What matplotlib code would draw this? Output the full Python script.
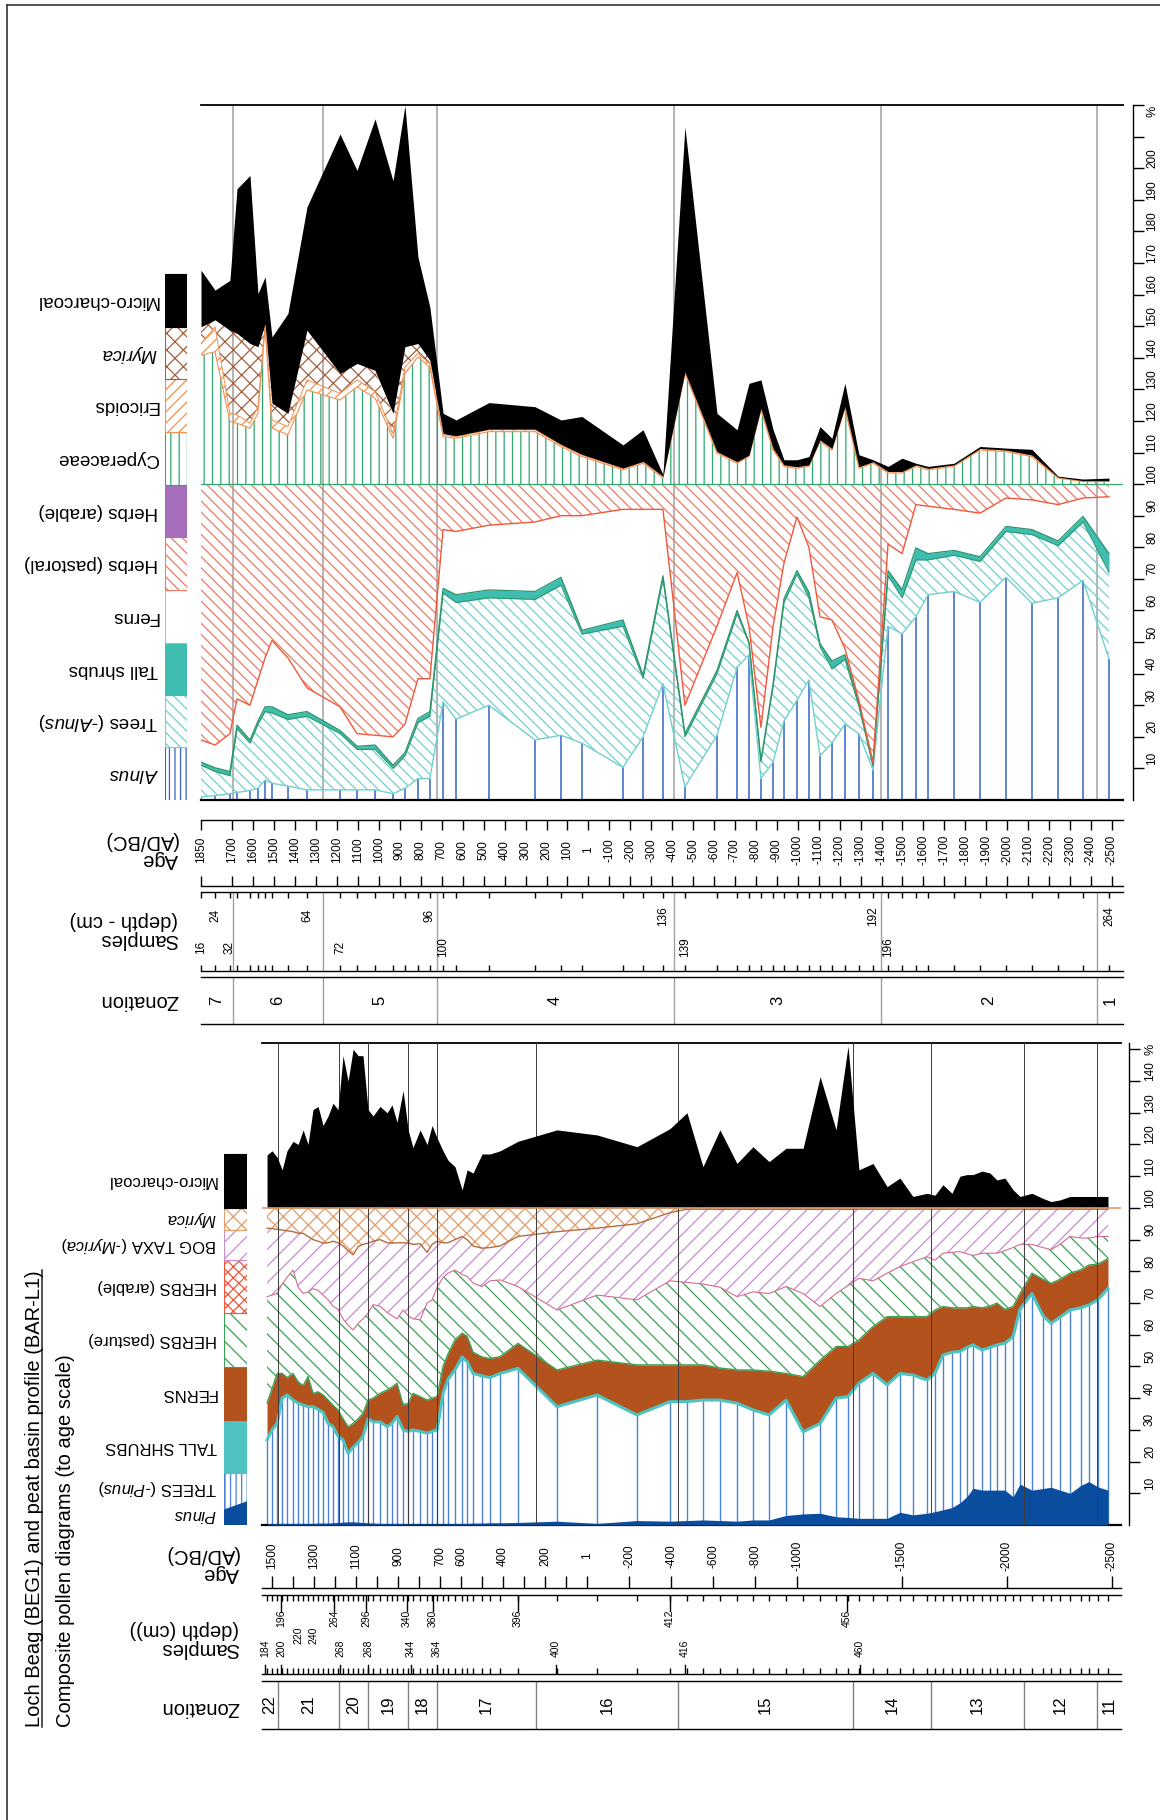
import numpy as np
import matplotlib
matplotlib.use("Agg")
import matplotlib.pyplot as plt
from matplotlib.patches import Rectangle, Polygon
from matplotlib.lines import Line2D
from matplotlib import transforms

plt.rcParams["font.family"] = ["Liberation Sans", "DejaVu Sans"]
plt.rcParams["mathtext.fontset"] = "custom"
plt.rcParams["mathtext.rm"] = "Liberation Sans"
plt.rcParams["mathtext.it"] = "Liberation Sans:italic"
plt.rcParams["hatch.linewidth"] = 0.9
plt.rcParams["axes.linewidth"] = 1.0

# ---------------------------------------------------------------
# Peat basin profile BAR-L1 (upper diagram)
# ages AD (+) / BC (-); every series = upper edge of its band (cumulative %)
# bands up to 100 are the pollen sum, above 100 the extra counts
# ---------------------------------------------------------------
bar_age = [1850, 1783, 1712, 1678, 1616, 1578, 1544, 1511, 1435, 1344,
           1186, 1105, 1019, 933, 876, 814, 757, 694, 632, 475,
           255, 131, 31, -165, -261, -356, -461, -614, -710, -767,
           -824, -882, -934, -996, -1053, -1106, -1163, -1225, -1292, -1359,
           -1431, -1498, -1564, -1622, -1746, -1870, -1994, -2118, -2243, -2362, -2486]
bar_alnus = [1, 1.4, 2, 2.4, 3, 3.7, 6.3, 5.3, 4.4, 3.2,
             3.2, 3.2, 3.2, 2, 3.7, 6.8, 6.8, 31, 25.6, 30,
             19, 20.5, 18, 10.3, 20, 36.8, 4.2, 20.5, 42, 46,
             6.8, 12, 25, 31.5, 38, 14, 18, 24, 21, 9.5,
             55, 52.6, 58, 65, 66, 62.6, 70.5, 62.3, 64, 69.5, 44.7]
bar_trees = [11, 9, 7.7, 22.5, 18, 24, 28, 27.5, 25.5, 26.5,
             21, 16, 16, 10, 14, 24.5, 26.5, 65.5, 62.5, 64,
             63.5, 68, 52.5, 55, 38.5, 70, 20, 40, 59, 49.5,
             12, 36, 62.5, 71.5, 64, 48.5, 41.5, 44.5, 29.5, 10.6,
             71, 64, 76, 76, 77.5, 75.5, 85, 84, 80.5, 88, 72]
bar_shrubs = [12, 10.2, 9, 23.7, 19, 25, 29.5, 29.5, 27, 28,
              22, 17, 17.4, 11, 15, 25.8, 28, 67, 65, 66.5,
              66, 70.5, 53.7, 57, 39.5, 71, 21, 41, 60, 50,
              12.6, 36.8, 63.7, 72.6, 65.8, 49.5, 44, 46, 30.5, 11.6,
              72.6, 66.6, 79.8, 78, 79, 77, 86.6, 85.6, 82, 89.8, 78]
bar_ferns = [19, 17.4, 21, 32, 30, 38, 45, 50.5, 45, 35.5,
             29.5, 21, 20.5, 20, 24, 38.4, 38.4, 85.6, 85, 87,
             88, 90, 90, 92, 92, 92, 30, 55, 72, 55,
             23, 55, 75, 89.6, 80, 58, 57, 48, 31.5, 11.8,
             81, 78, 93.5, 93, 92, 90.8, 95.6, 95, 93.5, 95.6, 96]
bar_cyperaceae = [140.8, 141.9, 119.8, 119.3, 117.7, 122.4, 149.8, 117.7, 115.6, 129.8,
                  126.6, 130.8, 127.2, 114.5, 135, 140.3, 137, 115, 114.5, 116.6,
                  116.6, 111.9, 108.7, 104.5, 106.6, 102, 135, 109.8, 106.6, 108.7,
                  123.5, 110.8, 105.6, 105, 105.6, 113.5, 110.8, 124, 105, 106.6,
                  103.5, 103.5, 105.6, 104.5, 105.6, 110.8, 110.3, 108.7, 101.9, 100.8, 100.8]
bar_ericoids = [144.5, 149.8, 122.4, 121.9, 119.3, 124.5, 150.3, 120.3, 118.2, 133,
                128.7, 133, 129.3, 116, 137, 141.4, 138, 115.6, 115, 117.2,
                117.2, 112.4, 109.2, 104.9, 107, 102.4, 135.4, 110.2, 107, 109.1,
                123.9, 111.2, 106, 105.4, 106, 113.9, 111.2, 124.4, 105.4, 107,
                103.9, 103.9, 106, 104.9, 106, 111.2, 110.7, 109.1, 102.1, 101, 101]
bar_myrica = [149.8, 152, 148.7, 147.7, 144.5, 143.5, 150.8, 125.6, 122.4, 148.7,
              135, 138.2, 136, 122.4, 143.5, 144.5, 139.2, 116, 115.3, 117.4,
              117.4, 112.6, 109.4, 105.1, 107.2, 102.5, 135.5, 110.3, 107.1, 109.2,
              124, 111.3, 106.1, 105.5, 106.1, 114, 111.3, 124.5, 105.5, 107.1,
              104, 104, 106.1, 105, 106.1, 111.3, 110.8, 109.2, 102.2, 101.1, 101.1]
bar_charcoal = [167.7, 161.4, 164.5, 193.5, 197.7, 160.3, 165.6, 146.6, 154, 187.7,
                210.8, 199.3, 215.6, 196, 219.8, 171.9, 156, 122.4, 120.3, 125.8,
                124.5, 120.3, 121.4, 112.4, 117.2, 103, 213, 122.4, 117.2, 131.9,
                133, 117.2, 107.7, 107.7, 108.7, 118.2, 114.5, 131.9, 109.3, 107.7,
                105.6, 108.2, 106.6, 105.6, 106.6, 111.9, 111.4, 111, 102.5, 101.6, 101.9]

bar_zone_bounds = [1697, 1267, 723, -409, -1397, -2429]
bar_zone_names = ["7", "6", "5", "4", "3", "2", "1"]
bar_age_ticks = [1850, 1700, 1600, 1500, 1400, 1300, 1200, 1100, 1000, 900, 800,
                 700, 600, 500, 400, 300, 200, 100, 1, -100, -200, -300, -400,
                 -500, -600, -700, -800, -900, -1000, -1100, -1200, -1300, -1400,
                 -1500, -1600, -1700, -1800, -1900, -2000, -2100, -2200, -2300,
                 -2400, -2500]
bar_depth_labels = [16, 24, 32, 64, 72, 96, 100, 136, 139, 192, 196, 264]
bar_depth_sample = [0, 1, 2, 9, 10, 16, 17, 25, 26, 39, 40, 50]

# ---------------------------------------------------------------
# Loch Beag BEG1 (lower diagram), same conventions
# ---------------------------------------------------------------
beg_age = [1524, 1500, 1476, 1452, 1429, 1400, 1376, 1352, 1329, 1305,
           1281, 1257, 1233, 1210, 1186, 1162, 1138, 1114, 1090, 1067,
           1043, 1019, 986, 952, 929, 905, 876, 852, 829, 795,
           762, 738, 714, 686, 662, 629, 595, 571, 543, 500,
           462, 414, 329, 143, -48, -238, -395, -476, -552, -633,
           -714, -790, -867, -948, -1029, -1110, -1186, -1243, -1295, -1362,
           -1429, -1490, -1552, -1619, -1657, -1695, -1738, -1776, -1810, -1838,
           -1881, -1919, -1952, -1990, -2029, -2062, -2119, -2171, -2210, -2252,
           -2300, -2352, -2390, -2433, -2481]
beg_pinus = [0.4, 0.4, 0.5, 0.5, 0.5, 0.5, 0.5, 0.5, 0.5, 0.5,
             0.6, 0.6, 0.6, 0.7, 0.8, 0.9, 1.0, 1.0, 0.9, 0.8,
             0.7, 0.6, 0.5, 0.5, 0.5, 0.5, 0.5, 0.4, 0.4, 0.4,
             0.4, 0.4, 0.4, 0.4, 0.4, 0.5, 0.5, 0.5, 0.6, 0.6,
             0.7, 0.7, 0.8, 1.2, 0.5, 1.4, 1.2, 1.4, 1.6, 1.4,
             1.2, 1.6, 1.6, 3.0, 3.5, 3.7, 2.6, 2.4, 2.1, 2.1,
             2.1, 4.0, 3.2, 3.7, 4.2, 4.8, 5.5, 7.0, 9.0, 11.6,
             11.0, 11.0, 11.0, 11.0, 8.9, 12.9, 11.0, 11.5, 11.9, 11.0,
             10.0, 12.5, 13.7, 12.0, 11.0]
beg_trees = [26.8, 30, 32, 40, 41, 39.4, 38.4, 37.8, 37.3, 37.3,
             36.5, 35.5, 32, 31, 28, 26.8, 22.6, 24.5, 26, 28,
             33.5, 32.5, 32.5, 31, 32, 34.2, 30, 29.5, 30, 29.5,
             29, 29.5, 30, 41.5, 46, 48.9, 53, 51.5, 47.8, 47,
             46.5, 47.8, 49.4, 37.3, 41, 34.7, 38.9, 38.9, 39.4, 39.4,
             38.4, 36.3, 34.7, 39.4, 29.4, 32, 40, 40.5, 44.7, 47.8,
             44.2, 47.8, 47.3, 45.7, 47.8, 53.6, 54.5, 54.7, 56, 56.8,
             55.2, 56, 56.8, 57.3, 59.4, 68, 73, 66, 63.6, 65.5,
             67.8, 68.5, 69.4, 71, 74.6]
beg_ferns = [38.4, 43, 47.8, 47.8, 46.5, 47.8, 45, 44, 46.8, 41.5,
             42, 41, 39.4, 37.8, 36.3, 33.5, 31, 32, 33.5, 35.2,
             39.4, 40, 41.5, 42.6, 43.5, 44.7, 37.8, 38.4, 41.5, 40.5,
             39.4, 40, 40.5, 50, 54, 58.4, 60.5, 59.5, 54.5, 53,
             52.5, 53.1, 57.3, 48.9, 52, 50.5, 50.5, 50.5, 50.5, 49.5,
             48.9, 48.9, 48.5, 47.8, 46.8, 52, 56.3, 56.3, 58.4, 62.6,
             65.7, 65.7, 65.7, 65.7, 67.8, 68.9, 68.5, 68.5, 68.5, 68.9,
             68.5, 69, 70, 68, 68.9, 73, 79.4, 77.5, 76.2, 77.5,
             79.4, 80.5, 82, 82.3, 84]
beg_pasture = [72, 72.5, 73, 76, 78, 80.4, 75, 73, 73.5, 74.5,
               74, 72.5, 71, 69, 68, 65, 63, 61.5, 63.6, 65,
               66.8, 69.5, 69, 67, 66, 65, 67.8, 66, 65, 64.7,
               70, 71, 75, 78, 79.4, 80.4, 79, 78.4, 76.3, 75.2,
               77, 77.3, 75.2, 67.8, 72.5, 71, 77, 76.5, 76, 75,
               72, 73.5, 73, 75.2, 73, 68.9, 73, 75.5, 77.8, 77,
               79.4, 81.5, 83, 84.6, 83.5, 85.7, 86, 86.2, 85.5, 85,
               85.7, 85.7, 85.7, 86.5, 87.5, 88.5, 88.5, 87.5, 86.8, 88.5,
               91, 90.5, 90.5, 91, 91]
beg_bog = [93.6, 93.5, 93.2, 93, 92.8, 92.5, 92, 92, 91, 90,
           89.5, 88.9, 89, 89.5, 89, 88, 86.5, 85.2, 87.8, 88.5,
           88.9, 89.5, 90, 89, 88.9, 89, 89, 88.9, 88.5, 88.7,
           86, 88.5, 89.5, 89, 89, 90, 91, 90, 88, 87.3,
           87.5, 88, 91, 92.5, 93.6, 95, 98.5, 99.6, 99.6, 99.5,
           99.6, 99.5, 99.6, 99.5, 99.6, 99.5, 99.6, 99.5, 99.6, 99.6,
           99.6, 99.6, 99.6, 99.6, 99.6, 99.6, 99.6, 99.6, 99.6, 99.6,
           99.6, 99.6, 99.6, 99.5, 99.6, 99.6, 99.5, 99.6, 99.6, 99.6,
           99.6, 99.6, 99.6, 99.6, 99.6]
beg_charcoal = [116.7, 118, 116, 112, 118, 121, 120, 124.6, 120, 131,
                132, 126, 129, 133, 131, 148, 140, 150, 148, 148,
                131, 129, 132, 130, 132.5, 127, 137, 124.6, 119, 124.6,
                120, 126, 122, 118, 115, 113, 105.7, 112, 111, 117,
                117, 118, 121, 124.6, 123, 119.3, 125, 130, 113, 124.6,
                114, 119.3, 114.6, 118.8, 118.8, 141.4, 124.6, 151, 112, 114,
                106.7, 109.4, 103.6, 104.6, 104, 107.3, 104.6, 110, 110.5, 110.5,
                111.6, 111, 108.8, 109.4, 105.7, 103.6, 104.6, 103, 102, 102.5,
                103.6, 103.6, 103.6, 103.6, 103.6]

beg_zone_bounds = [1471, 1181, 1043, 852, 714, 243, -433, -1267, -1638, -2081, -2429]
beg_zone_names = ["22", "21", "20", "19", "18", "17", "16", "15", "14", "13", "12", "11"]
beg_age_labels = [1500, 1300, 1100, 900, 700, 600, 400, 200, 1, -200, -400, -600,
                  -800, -1000, -1500, -2000, -2500]
beg_age_minor = [1400, 1200, 1000, 800, 500, 300, 100]
beg_depth_labels = [184, 200, 196, 220, 240, 264, 268, 296, 268, 340, 344, 360, 364,
                    396, 400, 412, 416, 456, 460]
beg_depth_ages = [1533, 1457, 1457, 1376, 1305, 1205, 1176, 1052, 1043, 857, 838, 733,
                  714, 329, 148, -395, -467, -1238, -1300]
beg_depth_row = [0, 0, 2, 1, 1, 2, 0, 2, 0, 2, 0, 2, 0, 2, 0, 2, 0, 2, 0]

# colours
ALNUS = "#3565c9"
TREES_A = "#72d0d0"
SHRUB = "#3fbdb0"
SHRUB_EDGE = "#2c9468"
FERN_EDGE = "#86d0b4"
HERB = "#f07a66"
HERB_LINE = "#f0583c"
ARABLE = "#a56dba"
CYPER = "#2ea86f"
ERIC = "#f39152"
MYRICA = "#a3603f"
PINUS = "#0a4d9f"
TREES_P = "#4c80d6"
SHRUB_P = "#4ec4c2"
FERN_P = "#b3521d"
PASTURE = "#3aa257"
ARABLE_P = "#f2553a"
BOG = "#c98bd2"
BOG_LINE = "#d36c8f"
MYRICA_P = "#e39b68"
MYRICA_LINE = "#b46c3c"

W, H = 1160, 1820
fig = plt.figure(figsize=(W / 100, H / 100), dpi=100)


def px_axes(x0, y0, x1, y1):
    # axes placed by a pixel box, origin at top-left of the page
    ax = fig.add_axes([x0 / W, 1 - y1 / H, (x1 - x0) / W, (y1 - y0) / H])
    ax.patch.set_visible(False)
    return ax


def band(x0, y0, x1, y1, xlim, top=True, bottom=True, tick_len=5):
    ax = px_axes(x0, y0, x1, y1)
    ax.set_xlim(*xlim)
    ax.set_ylim(0, 1)
    ax.spines[["left", "right"]].set_visible(False)
    ax.spines["top"].set_visible(top)
    ax.spines["bottom"].set_visible(bottom)
    ax.set_yticks([])
    ax.tick_params(axis="x", direction="in", top=top, bottom=bottom,
                   labelbottom=False, length=tick_len, width=1)
    return ax


def percent_axis(ax, ymax, label_max, pad):
    ax.set_ylim(0, ymax)
    ax.spines["left"].set_visible(False)
    ax.spines["right"].set_position(("outward", pad))
    ax.spines["right"].set_bounds(0, ymax)
    ax.spines["top"].set_linewidth(1.3)
    ax.spines["bottom"].set_linewidth(1.6)
    ax.yaxis.set_ticks_position("right")
    ax.set_yticks(np.arange(10, ymax + 1, 10))
    ax.tick_params(axis="y", direction="out", length=8, width=1, labelright=False)
    ax.set_xticks([])
    lab = transforms.offset_copy(ax.get_yaxis_transform(), fig=fig, x=29, y=10, units="dots")
    for v in range(10, label_max + 1, 10):
        ax.text(1, v, str(v), transform=lab, rotation=90, ha="center", va="center",
                fontsize=8.5)
    pc = transforms.offset_copy(ax.get_yaxis_transform(), fig=fig, x=29, y=-6, units="dots")
    ax.text(1, ymax, "%", transform=pc, rotation=90, ha="center", va="center", fontsize=9)


def zonation(ax, bounds, names, xlim, color):
    for b in bounds:
        ax.axvline(b, color=color, lw=1)
    edges = [xlim[0]] + bounds + [xlim[1]]
    for name, a0, a1 in zip(names, edges[:-1], edges[1:]):
        ax.text((a0 + a1) / 2, 0.5, name, rotation=90, ha="center", va="center", fontsize=12)


def legend_column(x0, y0, x1, y1, ymax, edges, styles):
    ax = px_axes(x0, y0, x1, y1)
    ax.set_xlim(0, 1)
    ax.set_ylim(0, ymax)
    ax.axis("off")
    for lo, hi, (fc, ec, hatch) in zip(edges[:-1], edges[1:], styles):
        ax.add_patch(Rectangle((0, lo), 1, hi - lo, facecolor=fc, edgecolor=ec,
                               hatch=hatch, lw=0.8))
    return ax


def legend_labels(ax, labels, ys, size):
    tr = transforms.offset_copy(ax.transData, fig=fig, x=-7, y=0, units="dots")
    for lab, y in zip(labels, ys):
        ax.text(0, y, lab, transform=tr, rotation=180, ha="right", va="center", fontsize=size)


def header(x, y, s, size=14.5):
    fig.text(x / W, 1 - y / H, s, rotation=180, ha="right", va="center",
             multialignment="left", fontsize=size, linespacing=1.05)


# ======================= upper diagram: BAR-L1 =======================
BAR_XLIM = (1850, -2553)
age = np.array(bar_age)
ax = px_axes(201, 105, 1123, 800)
ax.set_xlim(*BAR_XLIM)
percent_axis(ax, 220, 200, 7)
for b in bar_zone_bounds:
    ax.axvline(b, color="#a0a0a0", lw=1.1, zorder=0.5)
ax.vlines(age, 0, bar_alnus, color=ALNUS, lw=1.1, zorder=2)
ax.fill_between(age, bar_alnus, bar_trees, facecolor="none", edgecolor=TREES_A,
                hatch="\\" * 3, lw=0, zorder=2)
ax.plot(age, bar_alnus, color=TREES_A, lw=1, zorder=3)
ax.fill_between(age, bar_trees, bar_shrubs, color=SHRUB, lw=0, zorder=3)
ax.plot(age, bar_trees, color=SHRUB_EDGE, lw=0.7, zorder=3)
ax.plot(age, bar_shrubs, color=SHRUB_EDGE, lw=0.9, zorder=3)
ax.fill_between(age, bar_ferns, 100, facecolor="none", edgecolor=HERB,
                hatch="\\" * 3, lw=0, zorder=2)
ax.plot(age, bar_ferns, color=HERB_LINE, lw=1, zorder=3)
ax.fill_between(age, 100, bar_cyperaceae, facecolor="none", edgecolor=CYPER,
                hatch="||", lw=0, zorder=2)
ax.axhline(100, color=CYPER, lw=0.9, zorder=3)
ax.fill_between(age, bar_cyperaceae, bar_ericoids, facecolor="none", edgecolor=ERIC,
                hatch="///", lw=0, zorder=2)
ax.plot(age, bar_cyperaceae, color=ERIC, lw=0.8, zorder=3)
ax.fill_between(age, bar_ericoids, bar_myrica, facecolor="none", edgecolor=MYRICA,
                hatch="xx", lw=0, zorder=2)
ax.plot(age, bar_ericoids, color=ERIC, lw=0.7, zorder=3)
ax.fill_between(age, bar_myrica, bar_charcoal, color="black", lw=0, zorder=4)

bar_leg = legend_column(165, 105, 187, 800, 220,
                        [0, 16.8, 33.2, 49.7, 66.5, 83.2, 99.7, 116.5, 133.2, 149.7, 166.5],
                        [("white", ALNUS, "|||"), ("white", TREES_A, "\\" * 3),
                         (SHRUB, SHRUB, None), ("white", FERN_EDGE, None),
                         ("white", HERB, "\\" * 3), (ARABLE, ARABLE, None),
                         ("white", CYPER, "||"), ("white", ERIC, "///"),
                         ("white", MYRICA, "xx"), ("black", "black", None)])
edges = [0, 16.8, 33.2, 49.7, 66.5, 83.2, 99.7, 116.5, 133.2, 149.7, 166.5]
legend_labels(bar_leg,
              [r"$\mathit{Alnus}$", r"Trees (-$\mathit{Alnus}$)", "Tall shrubs", "Ferns",
               "Herbs (pastoral)", "Herbs (arable)", "Cyperaceae", "Ericoids",
               r"$\mathit{Myrica}$", "Micro-charcoal"],
              [(a + b) / 2 for a, b in zip(edges[:-1], edges[1:])], 13.5)

# age scale
ax_age = band(201, 820, 1123, 886, BAR_XLIM, tick_len=7)
ax_age.set_xticks(bar_age_ticks)
for a in bar_age_ticks:
    ax_age.text(a, 0.55, str(a), rotation=90, ha="center", va="center", fontsize=8.5)

# samples
ax_s = band(201, 892, 1123, 971, BAR_XLIM, tick_len=4)
ax_s.set_xticks(bar_age)
for b in bar_zone_bounds:
    ax_s.axvline(b, color="#a0a0a0", lw=1)
for k, (d, i) in enumerate(zip(bar_depth_labels, bar_depth_sample)):
    ax_s.text(bar_age[i], 0.70 if k % 2 else 0.30, str(d), rotation=90,
              ha="center", va="center", fontsize=8.5)

# zonation
ax_z = band(201, 977, 1123, 1024, BAR_XLIM)
ax_z.set_xticks([])
zonation(ax_z, bar_zone_bounds, bar_zone_names, BAR_XLIM, "#a0a0a0")

header(178, 1000, "Zonation")
header(178, 930, "Samples\n(depth - cm)")
header(178, 850, "Age\n(AD/BC)")

# ======================= lower diagram: BEG1 =======================
BEG_XLIM = (1548, -2543)
age = np.array(beg_age)
ax = px_axes(262, 1043, 1121, 1525)
ax.set_xlim(*BEG_XLIM)
percent_axis(ax, 152, 140, 6)
ax.vlines(age, 0, beg_trees, color=TREES_P, lw=1.0, zorder=2)
ax.fill_between(age, 0, beg_pinus, color=PINUS, lw=0, zorder=3)
ax.fill_between(age, beg_trees, beg_ferns, color=FERN_P, lw=0, zorder=2)
ax.plot(age, beg_trees, color=SHRUB_P, lw=2.2, zorder=3)
ax.fill_between(age, beg_ferns, beg_pasture, facecolor="none", edgecolor=PASTURE,
                hatch="\\\\", lw=0, zorder=2)
ax.plot(age, beg_ferns, color=PASTURE, lw=1, zorder=3)
ax.fill_between(age, beg_pasture, beg_bog, facecolor="none", edgecolor=BOG,
                hatch="//", lw=0, zorder=2)
ax.plot(age, beg_pasture, color=BOG_LINE, lw=0.8, zorder=3)
ax.fill_between(age, beg_bog, 100, facecolor="none", edgecolor=MYRICA_P,
                hatch="xx", lw=0, zorder=2)
ax.plot(age, beg_bog, color=MYRICA_LINE, lw=1, zorder=3)
ax.fill_between(age, 100, beg_charcoal, color="black", lw=0, zorder=4)
ax.axhline(100, color=MYRICA_P, lw=1.2, zorder=4)
for b in beg_zone_bounds:
    ax.axvline(b, color="#3c3c3c", lw=0.7, zorder=3.5)

beg_edges = [0, 16.4, 33.1, 49.8, 66.9, 83.6, 93, 100, 117]
beg_leg = legend_column(224, 1043, 247, 1525, 152, beg_edges,
                        [("white", TREES_P, "|||"), (SHRUB_P, SHRUB_P, None),
                         (FERN_P, FERN_P, None), ("white", PASTURE, "\\\\"),
                         ("white", ARABLE_P, "xxx"), ("white", BOG, "//"),
                         ("white", MYRICA_P, "xx"), ("black", "black", None)])
beg_leg.add_patch(Polygon([(0, 0), (1, 0), (1, 7.3), (0, 4.7)], closed=True,
                          facecolor=PINUS, edgecolor=PINUS, lw=0.8))
centres = [(a + b) / 2 for a, b in zip(beg_edges[:-1], beg_edges[1:])]
legend_labels(beg_leg,
              [r"$\mathit{Pinus}$", r"TREES (-$\mathit{Pinus}$)", "TALL SHRUBS", "FERNS",
               "HERBS (pasture)", "HERBS (arable)", r"BOG TAXA (-$\mathit{Myrica}$)",
               r"$\mathit{Myrica}$", "Micro-charcoal"],
              [3.2, 11.7] + centres[1:], 12)

# age scale (single line, ticks up)
ax_age = band(262, 1530, 1121, 1588, BEG_XLIM, top=False, tick_len=9)
ax_age.set_xticks(beg_age_labels + beg_age_minor)
for a in beg_age_labels:
    ax_age.text(a, 0.55, str(a), rotation=90, ha="center", va="center", fontsize=8.5)

# samples
ax_s = band(262, 1595, 1121, 1674, BEG_XLIM, tick_len=4)
ax_s.set_xticks(beg_age)
row_y = [0.33, 0.49, 0.71]
for d, a, r in zip(beg_depth_labels, beg_depth_ages, beg_depth_row):
    ax_s.text(a, row_y[r], str(d), rotation=90, ha="center", va="center", fontsize=7.5)
    if r == 2:
        ax_s.plot([a, a], [1, 0.8], color="black", lw=1)
    elif r == 0:
        ax_s.plot([a, a], [0, 0.12], color="black", lw=1)

# zonation
ax_z = band(262, 1681, 1121, 1729, BEG_XLIM)
ax_z.set_xticks([])
zonation(ax_z, beg_zone_bounds, beg_zone_names, BEG_XLIM, "#808080")

header(239, 1708, "Zonation")
header(239, 1639, "Samples\n(depth (cm))")
header(239, 1564, "Age\n(AD/BC)")

# ======================= title and frame =======================
title = fig.text(35 / W, 1 - 1727 / H, "Loch Beag (BEG1) and peat basin profile (BAR-L1)",
                 rotation=90, ha="center", va="bottom", fontsize=14.5)
fig.text(66 / W, 1 - 1727 / H, "Composite pollen diagrams (to age scale)",
         rotation=90, ha="center", va="bottom", fontsize=14.5)
fig.add_artist(Line2D([7 / W, 7 / W], [0, 1 - 5 / H], color="#333333", lw=1.2))
fig.add_artist(Line2D([7 / W, 1], [1 - 5 / H, 1 - 5 / H], color="#333333", lw=1.2))

fig.canvas.draw()
bb = title.get_window_extent(fig.canvas.get_renderer())
x_ul = (bb.x1 - 3) / W
fig.add_artist(Line2D([x_ul, x_ul], [bb.y0 / H, bb.y1 / H], color="#222222", lw=1.1))

fig.savefig("out.png", dpi=100)
